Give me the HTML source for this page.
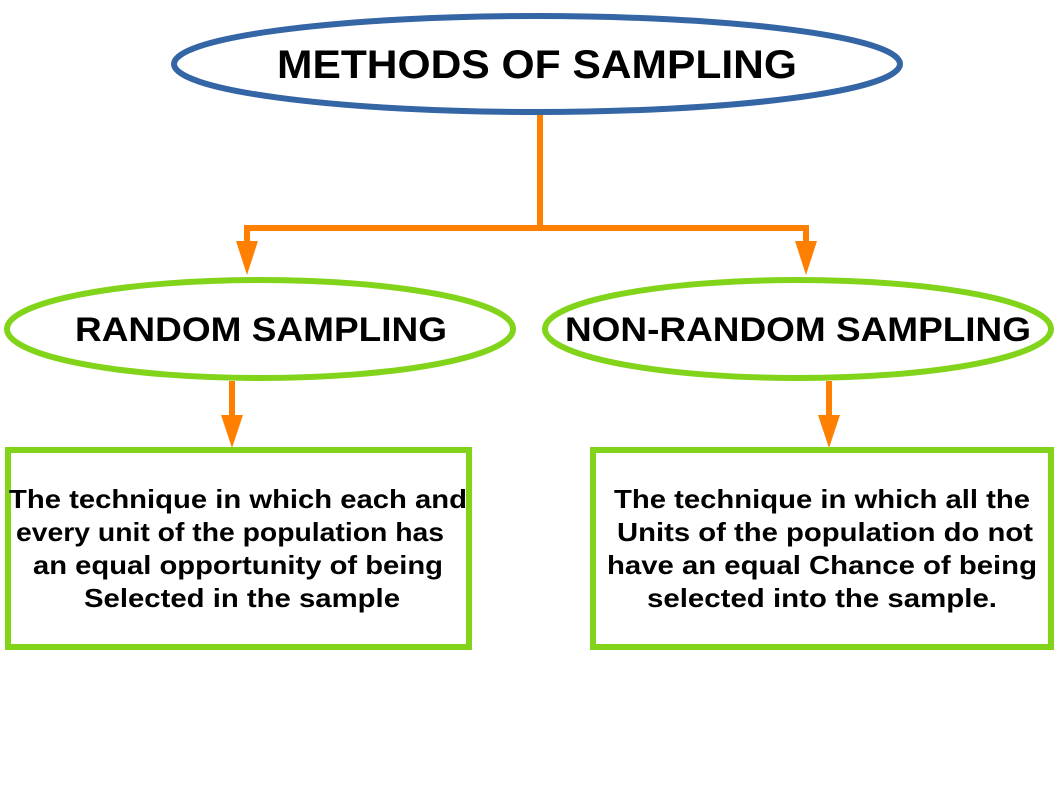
<!DOCTYPE html>
<html><head><style>body{margin:0;background:#fff}svg{display:block}</style></head><body>
<svg width="1058" height="794" viewBox="0 0 1058 794" font-family="Liberation Sans, sans-serif" font-weight="bold">
<g stroke="#ff8000" stroke-width="6" fill="none">
<path d="M540 114 V228 M247 228 H806 M247 225 V245 M806 225 V245 M232 381 V418 M829 381 V418"/>
</g>
<g fill="#ff8000">
<polygon points="236,241 258,241 247,275"/>
<polygon points="795,241 817,241 806,275"/>
<polygon points="221,415 243,415 232,448"/>
<polygon points="818,415 840,415 829,448"/>
</g>
<ellipse cx="537" cy="64" rx="363" ry="48" fill="#fff" stroke="#3465a4" stroke-width="6"/>
<ellipse cx="260" cy="329" rx="253" ry="49" fill="#fff" stroke="#81d41a" stroke-width="6"/>
<ellipse cx="798" cy="329" rx="253" ry="49" fill="#fff" stroke="#81d41a" stroke-width="6"/>
<rect x="8" y="450" width="461" height="197" fill="#fff" stroke="#81d41a" stroke-width="6"/>
<rect x="593" y="450" width="458" height="197" fill="#fff" stroke="#81d41a" stroke-width="6"/>
<g text-anchor="middle" fill="#000">
<text x="537" y="78" font-size="40" textLength="520" lengthAdjust="spacingAndGlyphs">METHODS OF SAMPLING</text>
<text x="261" y="341" font-size="34" textLength="372" lengthAdjust="spacingAndGlyphs">RANDOM SAMPLING</text>
<text x="798" y="341" font-size="34" textLength="466" lengthAdjust="spacingAndGlyphs">NON-RANDOM SAMPLING</text>
<g font-size="26" lengthAdjust="spacingAndGlyphs">
<text x="238" y="508" textLength="458" lengthAdjust="spacingAndGlyphs">The technique in which each and</text>
<text x="230" y="541" textLength="428" lengthAdjust="spacingAndGlyphs">every unit of the population has</text>
<text x="238" y="574" textLength="410" lengthAdjust="spacingAndGlyphs">an equal opportunity of being</text>
<text x="242" y="607" textLength="316" lengthAdjust="spacingAndGlyphs">Selected in the sample</text>
<text x="822" y="508" textLength="416" lengthAdjust="spacingAndGlyphs">The technique in which all the</text>
<text x="825" y="541" textLength="416" lengthAdjust="spacingAndGlyphs">Units of the population do not</text>
<text x="822" y="574" textLength="430" lengthAdjust="spacingAndGlyphs">have an equal Chance of being</text>
<text x="822" y="607" textLength="350" lengthAdjust="spacingAndGlyphs">selected into the sample.</text>
</g></g>
</svg>
</body></html>
